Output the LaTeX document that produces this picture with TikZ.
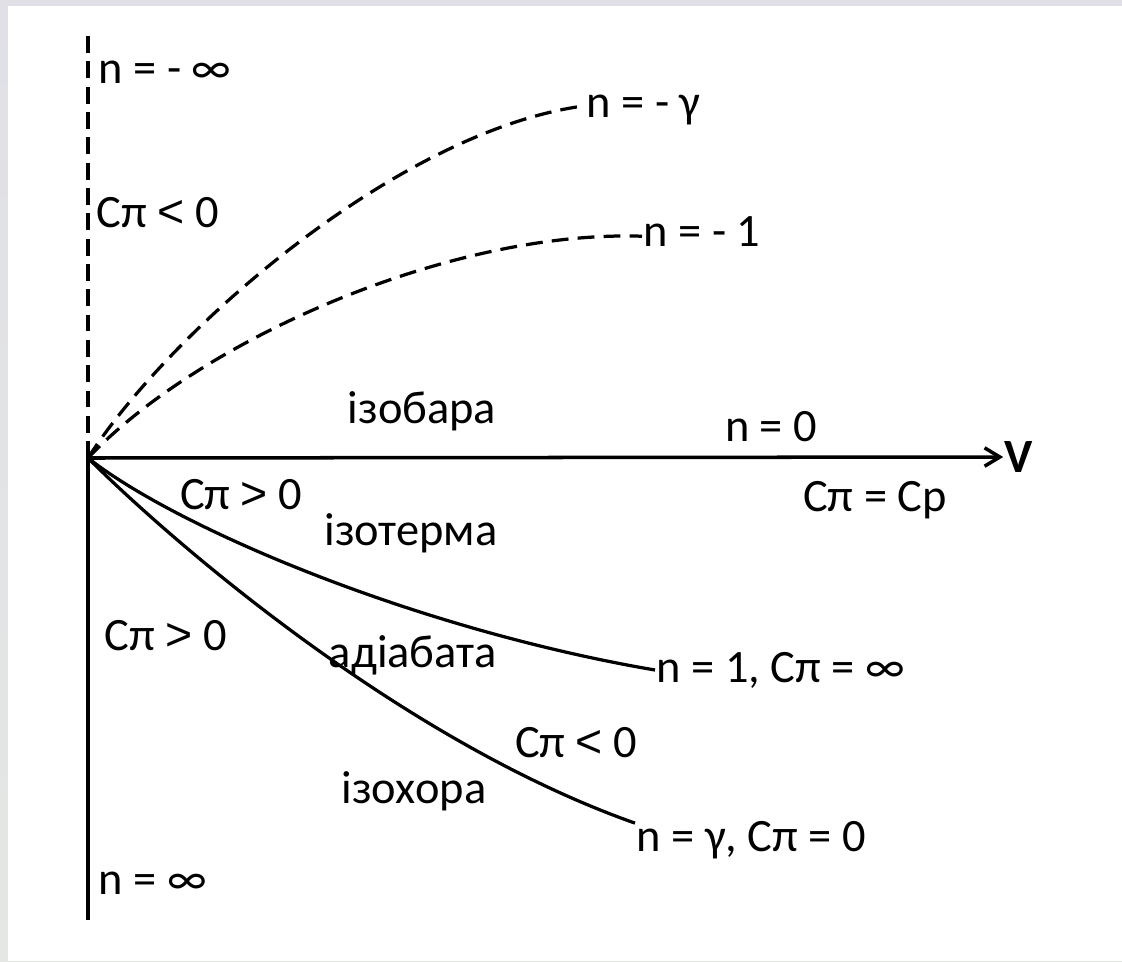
\documentclass[tikz,border=0pt]{standalone}
\usepackage{fontspec}
\setmainfont{Carlito}
\newfontfamily\relfont{Liberation Sans}
\newcommand{\rel}[1]{{\relfont #1}}
\usepackage{tikz}
\usetikzlibrary{arrows.meta,positioning}

\begin{document}
\begin{tikzpicture}[x=0.025cm,y=-0.025cm,
 lab/.style={inner sep=1pt,font=\fontsize{33}{38}\selectfont},
 endl/.style={lab,anchor=west},
 ax/.style={line width=2.5pt},
 crv/.style={line width=2.3pt},
 dsh/.style={crv,dash pattern=on 12pt off 6.5pt}]
 % frame
 \shade[top color=blue!10!gray!22,bottom color=green!5!gray!20] (0,0) rectangle (1122,961);
 \fill[white] (8,6) rectangle (1122,961);
 \useasboundingbox (0,0) rectangle (1122,961);
 % axes
 \coordinate (O) at (88,458);
 \coordinate (top) at (88,33);
 \coordinate (bot) at (88,920);
 \node[lab,font=\fontsize{34}{38}\selectfont\bfseries] (V) at (1019,457) {V};
 \draw[ax,-{Straight Barb[length=3.8mm,width=4.6mm]}] (O) -- (V.west);
 \draw[ax,dash pattern=on 12pt off 6pt] (O) -- (top);
 \draw[ax] (O) -- (bot);
 % curve end labels
 \node[endl] (ngam) at (585,110) {n = - γ};
 \node[endl] (nmin) at (642,232) {n = - 1};
 \node[endl] (none) at (655,670) {n = 1, Cπ = ∞};
 \node[endl] (nhi) at (635,840) {n = γ, Cπ = 0};
 % polytropes
 \draw[dsh] (O) .. controls (170,330) and (400,130) .. ([yshift=3pt]ngam.west);
 \draw[dsh] (O) .. controls (200,340) and (450,230) .. ([yshift=-3pt]nmin.west);
 \draw[crv] (O) .. controls (180,530) and (420,630) .. (none.west);
 \draw[crv] (O) .. controls (170,540) and (400,740) .. ([yshift=12pt]nhi.west);
 % region labels
 \node[lab,anchor=west] (ninf1) at (97,72) {n = - ∞};
 \node[lab,anchor=west] (cneg1) at (95,213) {Cπ \rel{<} 0};
 \node[lab] (isob) at (422,411) {ізобара};
 \node[lab] (nzero) at (771,427) {n = 0};
 \node[lab] (cpos1) at (241,495) {Cπ \rel{>} 0};
 \node[lab] (cpcp) at (875,500) {Cπ = Cp};
 \node[lab] (isot) at (411,533) {ізотерма};
 \node[lab,anchor=west] (cpos2) at (103,636) {Cπ \rel{>} 0};
 \node[lab] (adia) at (413,655) {адіабата};
 \node[lab] (cneg2) at (576,743) {Cπ \rel{<} 0};
 \node[lab] (isoc) at (414,791) {ізохора};
 \node[lab,anchor=west] (ninf2) at (97,883) {n = ∞};
\end{tikzpicture}
\end{document}
